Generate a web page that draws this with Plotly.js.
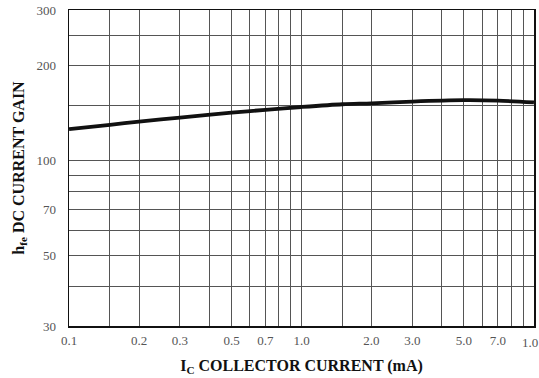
<!DOCTYPE html>
<html>
<head>
<meta charset="utf-8">
<script src="https://cdn.plot.ly/plotly-3.0.1.min.js"></script>
<style>html,body{margin:0;padding:0;background:#fff;}#chart{width:539px;height:378px;}</style>
</head>
<body>
<div id="chart"></div>
<script>
// Collector current (mA) and DC current gain hFE
const collectorCurrent = [0.1, 0.15, 0.2, 0.3, 0.5, 0.7, 1.0, 1.5, 2.0, 3.0, 5.0, 7.0, 10];
const currentGain      = [126, 130, 133, 137, 142, 145, 148, 151, 152, 154, 155.5, 155, 153];

// Grid positions and tick labels (the label at 10 mA reads "1.0" on the original chart)
const xGrid   = [0.1, 0.15, 0.2, 0.3, 0.4, 0.5, 0.6, 0.7, 0.8, 0.9, 1, 1.5, 2, 3, 4, 5, 6, 7, 8, 9, 10];
const xLabels = ['0.1', '', '0.2', '0.3', '', '0.5', '', '0.7', '', '', '1.0', '', '2.0', '3.0', '', '5.0', '', '7.0', '', '', ''];
const lastXTick = 10;
const lastXLabel = '1.0';
const yGrid   = [30, 40, 50, 60, 70, 80, 90, 100, 150, 200, 250, 300];
const yLabels = ['30', '', '50', '', '70', '', '', '100', '', '200', '', '300'];

const serif = '"Liberation Serif", "Times New Roman", serif';

const trace = {
  x: collectorCurrent,
  y: currentGain,
  type: 'scatter',
  mode: 'lines',
  line: {color: '#111', width: 3.8, shape: 'spline', smoothing: 0.8},
  hoverinfo: 'skip'
};

const layout = {
  width: 539,
  height: 378,
  margin: {l: 69, r: 5, t: 10, b: 52},
  paper_bgcolor: '#fff',
  plot_bgcolor: '#fff',
  showlegend: false,
  xaxis: {
    type: 'log',
    range: [Math.log10(0.1) - 0.0002, Math.log10(10) + 0.0002],
    tickmode: 'array',
    tickvals: xGrid,
    ticktext: xLabels,
    tickangle: 0,
    ticks: '',
    showgrid: true,
    gridcolor: '#555',
    gridwidth: 1,
    zeroline: false,
    showline: true,
    linecolor: '#111',
    linewidth: 1.5,
    mirror: true,
    tickfont: {family: serif, size: 13, color: '#555'},
    ticklabelstandoff: 2,
    title: {
      text: '<b>I<sub>C</sub> COLLECTOR CURRENT (mA)</b>',
      font: {family: serif, size: 16, color: '#111'},
      standoff: 12
    }
  },
  yaxis: {
    type: 'log',
    range: [Math.log10(30) - 0.0002, Math.log10(300) + 0.0002],
    tickmode: 'array',
    tickvals: yGrid,
    ticktext: yLabels,
    tickangle: 0,
    ticklabeloverflow: 'allow',
    ticks: '',
    showgrid: true,
    gridcolor: '#555',
    gridwidth: 1,
    zeroline: false,
    showline: true,
    linecolor: '#111',
    linewidth: 1.5,
    mirror: true,
    tickfont: {family: serif, size: 13, color: '#555'},
    ticklabelstandoff: 9,
    title: {
      text: '<b>h<sub>fe</sub> DC CURRENT GAIN</b>',
      font: {family: serif, size: 16, color: '#111'},
      standoff: 8
    }
  },
  annotations: [{
    x: Math.log10(lastXTick),
    xref: 'x',
    y: 0,
    yref: 'paper',
    text: lastXLabel,
    showarrow: false,
    xanchor: 'right',
    yanchor: 'top',
    xshift: 5,
    yshift: -8,
    borderpad: 0,
    font: {family: serif, size: 13, color: '#555'}
  }]
};

Plotly.newPlot('chart', [trace], layout, {staticPlot: true, displayModeBar: false});
</script>
</body>
</html>
